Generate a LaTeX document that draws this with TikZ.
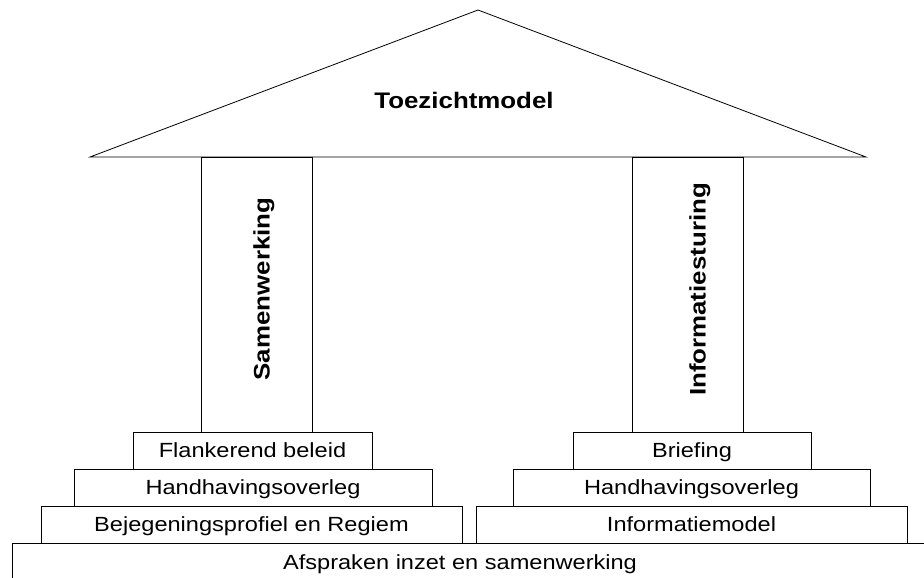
\documentclass[tikz,border=0pt]{standalone}
\usepackage{fontspec}
\setmainfont{Liberation Sans}[FakeStretch=1.15]
\usetikzlibrary{positioning}

\tikzset{
  stepbox/.style={draw=black, rectangle, inner sep=0pt, minimum height=37pt,
                  text height=14.7pt, text depth=0pt, font=\fontsize{20.5}{24}\selectfont},
  pillar/.style={draw=black, rectangle, inner sep=0pt, minimum width=111pt, minimum height=275pt},
  pillartext/.style={rotate=90, inner sep=0pt, text height=16.1pt, text depth=0pt,
                     font=\fontsize{22.5}{26}\bfseries\selectfont},
  rooftext/.style={inner sep=0pt, font=\fontsize{22.5}{26}\bfseries\selectfont},
}

\begin{document}
\begin{tikzpicture}[x=1pt, y=-1pt, line width=0.8pt]
            \useasboundingbox (0,0) rectangle (924,578);
            \clip (0,0) rectangle (924,578);
            % Roof
            \draw[fill=white] (90,157) -- (478,10) -- (866,157) -- cycle;
            \node[rooftext, anchor=base] (roof) at (464,109) {Toezichtmodel};
            % Pillars
            \node[pillar] (samen) at (257.0,294.5) {};
            \node[pillar] (infost) at (687.5,294.5) {};
            \node[pillartext] (samenlbl) at (261.5,289.0) {Samenwerking};
            \node[pillartext] (infostlbl) at (697.5,289.5) {Informatiesturing};
            % Left steps
            \node[stepbox, minimum width=239pt] (flank) at (252.5,450.5) {Flankerend beleid};
            \node[stepbox, minimum width=358pt] (handhl) at (253.0,487.5) {Handhavingsoverleg};
            \node[stepbox, minimum width=421pt] (bejeg) at (251.5,524.5) {Bejegeningsprofiel en Regiem};
            % Right steps
            \node[stepbox, minimum width=238pt] (brief) at (692.0,450.5) {Briefing};
            \node[stepbox, minimum width=357pt] (handhr) at (691.5,487.5) {Handhavingsoverleg};
            \node[stepbox, minimum width=431pt] (infomod) at (691.5,524.5) {Informatiemodel};
            % Foundation (runs off the page)
            \draw (12,600) |- (950,543);
            \node[stepbox, draw=none, minimum height=0pt] (afspr) at (460,562) {Afspraken inzet en samenwerking};
\end{tikzpicture}
\end{document}
